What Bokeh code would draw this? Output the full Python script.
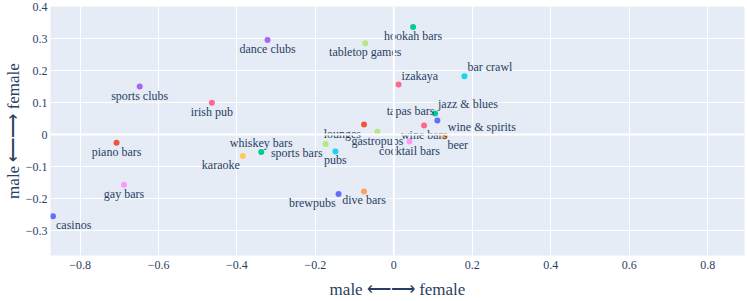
from bokeh.plotting import figure
from bokeh.models import Range1d, FixedTicker, Span, ColumnDataSource
from bokeh.core.properties import value
from bokeh.embed import file_html
from bokeh.resources import INLINE

# ---- data ----
names = ["casinos", "piano bars", "gay bars", "karaoke", "sports clubs", "irish pub",
         "dance clubs", "hookah bars", "tabletop games", "izakaya", "bar crawl",
         "jazz & blues", "tapas bars", "wine & spirits", "beer", "wine bars",
         "cocktail bars", "lounges", "gastropubs", "whiskey bars", "sports bars",
         "pubs", "brewpubs", "dive bars"]
x_vals = [-0.869, -0.707, -0.688, -0.385, -0.648, -0.464,
          -0.322, 0.049, -0.073, 0.012, 0.180,
          0.105, 0.111, 0.130, 0.129, 0.077,
          0.040, -0.076, -0.042, -0.338, -0.174,
          -0.149, -0.141, -0.076]
y_vals = [-0.255, -0.026, -0.157, -0.067, 0.150, 0.099,
          0.295, 0.336, 0.285, 0.156, 0.182,
          0.066, 0.044, -0.005, -0.006, 0.028,
          -0.022, 0.031, 0.009, -0.055, -0.030,
          -0.053, -0.186, -0.178]
x_ticks = [-0.8, -0.6, -0.4, -0.2, 0, 0.2, 0.4, 0.6, 0.8]
y_ticks = [-0.3, -0.2, -0.1, 0, 0.1, 0.2, 0.3, 0.4]

# ---- styles ----
colors = ["#636EFA", "#EF553B", "#FF97FF", "#FECB52", "#AB63FA", "#FF6692",
          "#AB63FA", "#00CC96", "#B6E880", "#FF6692", "#19D3F3",
          "#00CC96", "#636EFA", "#FECB52", "#FFA15A", "#FF6692",
          "#FF97FF", "#EF553B", "#B6E880", "#00CC96", "#B6E880",
          "#19D3F3", "#636EFA", "#FFA15A"]
text_pos = ["bottom right", "bottom center", "bottom center", "bottom left", "bottom center", "bottom center",
            "bottom center", "bottom center", "bottom center", "top right", "top right",
            "top right", "top left", "top right", "bottom right", "bottom center",
            "bottom center", "bottom left", "bottom center", "top center", "bottom left",
            "bottom center", "bottom left", "bottom center"]

FONT = "'Liberation Serif', 'Times New Roman', serif"
TXT = "#2a3f5f"

p = figure(width=747, height=301, output_backend="svg", toolbar_location=None,
           x_range=Range1d(-0.8754, 0.894), y_range=Range1d(-0.378, 0.4),
           background_fill_color="#E5ECF6", border_fill_color="white",
           min_border_left=0, min_border_right=3, min_border_top=6, min_border_bottom=10)
p.outline_line_color = None

p.xaxis.ticker = FixedTicker(ticks=x_ticks)
p.yaxis.ticker = FixedTicker(ticks=y_ticks)

def fmt(v):
    s = ("%g" % v)
    return s.replace("-", "\u2212")

p.xaxis.major_label_overrides = {v: fmt(v) for v in x_ticks}
p.yaxis.major_label_overrides = {v: fmt(v) for v in y_ticks}

for ax in (p.xaxis[0], p.yaxis[0]):
    ax.axis_line_color = None
    ax.major_tick_line_color = None
    ax.minor_tick_line_color = None
    ax.major_tick_out = 0
    ax.major_tick_in = 0
    ax.minor_tick_out = 0
    ax.minor_tick_in = 0
    ax.major_label_text_font = FONT
    ax.major_label_text_font_size = "12px"
    ax.major_label_text_color = TXT
    ax.axis_label = "male \u27f5\u27f6 female"
    ax.axis_label_text_font = FONT
    ax.axis_label_text_font_size = "17px"
    ax.axis_label_text_font_style = "normal"
    ax.axis_label_text_color = TXT

p.xaxis.major_label_standoff = 5
p.xaxis.axis_label_standoff = 8
p.yaxis.major_label_standoff = 3
p.yaxis.axis_label_standoff = 0

p.grid.grid_line_color = "white"
p.grid.grid_line_width = 1
p.xgrid.ticker = FixedTicker(ticks=x_ticks)
p.ygrid.ticker = FixedTicker(ticks=y_ticks)

p.add_layout(Span(location=0, dimension="height", line_color="white", line_width=2))
p.add_layout(Span(location=0, dimension="width", line_color="white", line_width=2))

src = ColumnDataSource(dict(x=x_vals, y=y_vals, c=colors, n=names))
p.scatter("x", "y", source=src, size=6, fill_color="c", line_color=None)

pos_style = {
    "bottom center": ("center", 0, 9),
    "top center": ("center", 0, -9),
    "bottom right": ("left", 3, 9),
    "bottom left": ("right", -3, 9),
    "top right": ("left", 3, -9),
    "top left": ("right", -3, -9),
}
for pos, (align, dx, dy) in pos_style.items():
    idx = [i for i, t in enumerate(text_pos) if t == pos]
    if not idx:
        continue
    s = ColumnDataSource(dict(x=[x_vals[i] for i in idx], y=[y_vals[i] for i in idx],
                              t=[names[i] for i in idx]))
    p.text("x", "y", text="t", source=s, text_align=align, text_baseline="middle",
           x_offset=dx, y_offset=dy, text_font=value(FONT), text_font_size="12px",
           text_color=TXT)

open("out.html", "w").write(file_html(p, INLINE))
